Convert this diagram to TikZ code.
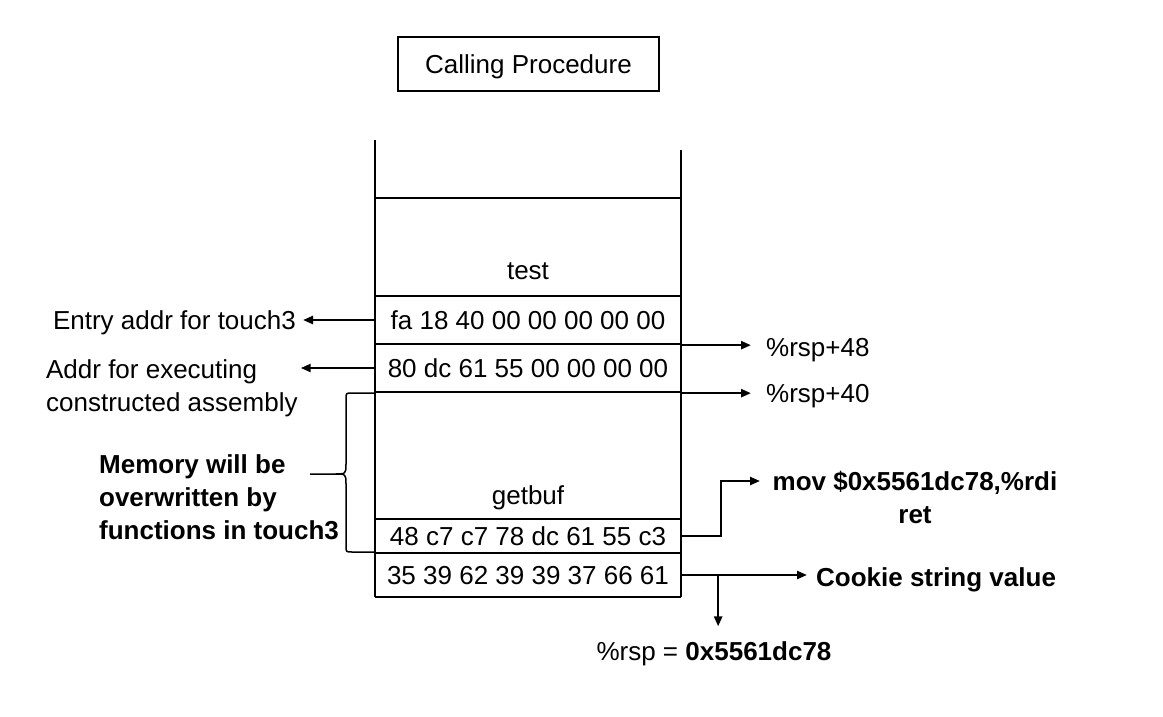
\documentclass[tikz,border=0pt]{standalone}
\usepackage{fontspec}
\setmainfont{Liberation Sans}
\usetikzlibrary{arrows.meta}
\begin{document}
\begin{tikzpicture}[x=1pt,y=-1pt,line width=2.3pt,
    every node/.style={inner sep=0pt,text depth=0pt,font=\fontsize{26}{33}\selectfont},
    slot/.style={minimum width=306pt},
    bold/.style={font=\fontsize{26}{33}\selectfont\bfseries},
    ptr/.style={-{Triangle[length=10pt,width=8pt]}}]
      \useasboundingbox (0,0) rectangle (1163,716);

      % Box on top
      \node[draw,line width=2pt,minimum width=261pt,minimum height=54pt] (caller) at (528.5,64) {Calling Procedure};

      % Walls of the stack
      \draw (375,140) -- (375,597);
      \draw (681,150) -- (681,597);

      % Lines between the slots
      \foreach \y in {198, 296, 344, 392, 519, 553, 597} {
          \draw (375,\y) -- (681,\y);
      }

      % Frames and slots
      \node (test) at (528,271) {test};
      \node (getbuf) at (528,495) {getbuf};
      \node[slot,minimum height=48pt] (entry) at (528,320) {fa 18 40 00 00 00 00 00};
      \node[slot,minimum height=48pt] (exec) at (528,368) {80 dc 61 55 00 00 00 00};
      \node[slot,minimum height=34pt] (code) at (528,536) {48 c7 c7 78 dc 61 55 c3};
      \node[slot,minimum height=44pt] (cookie) at (528,575) {35 39 62 39 39 37 66 61};

      % Labels on the left
      \node[anchor=east] (entrylbl) at (297,320) {Entry addr for touch3};
      \node[anchor=north west,align=left] (execlbl) at (45,359) {Addr for executing\\constructed assembly};
      \node[bold,anchor=west,align=left] (memlbl) at (98,497) {Memory will be\\overwritten by\\functions in touch3};

      \draw[ptr,shorten >=6pt] (entry.west) -- (entrylbl.east);
      \draw[ptr,shorten >=2pt] (exec.west) -- (execlbl.east |- exec.west);

      % Brace for the overwritten part
      \draw[line width=1.5pt] (375,393) -- (352,393) .. controls (346,393) .. (346,399)
          -- (346,464) .. controls (346,474) .. (334,474) -- (310,474)
          -- (334,474) .. controls (346,474) .. (346,484)
          -- (346,546) .. controls (346,552) .. (352,552) -- (375,552);

      % Labels on the right
      \node[anchor=west] (rsp48) at (765,347) {\%rsp+48};
      \node[anchor=west] (rsp40) at (765,393) {\%rsp+40};
      \draw[ptr,shorten >=14pt] (entry.south east) -- (rsp48.west |- entry.south east);
      \draw[ptr,shorten >=14pt] (exec.south east) -- (rsp40.west |- exec.south east);

      \node[bold,align=center] (movlbl) at (915,497.5) {mov \$0x5561dc78,\%rdi\\ret};
      \coordinate (movin) at (760,481);
      \draw[ptr] (code.east) -- ++(39,0) |- (movin);

      \node[bold,anchor=west] (cookielbl) at (815,577) {Cookie string value};
      \draw[ptr,shorten >=8pt] (cookie.east) -- (cookielbl.west |- cookie.east);

      \node (rsplbl) at (714,651) {\%rsp = \textbf{0x5561dc78}};
      \draw[ptr,shorten >=14pt] ([xshift=36pt]cookie.east) -- ([xshift=36pt]cookie.east |- rsplbl.north);
\end{tikzpicture}
\end{document}
